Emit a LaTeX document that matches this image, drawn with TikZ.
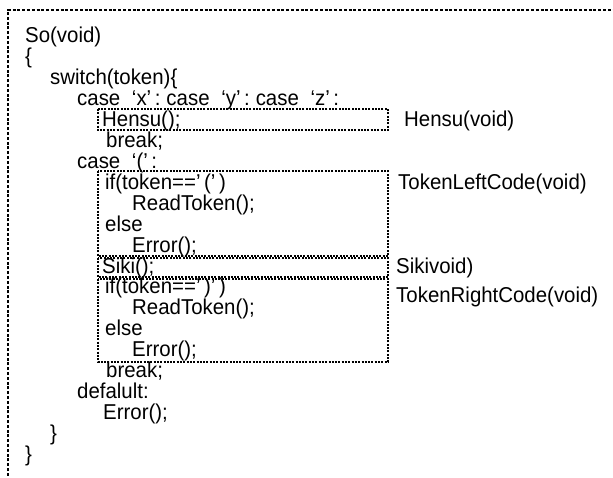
\documentclass[tikz,border=0pt]{standalone}
\usepackage{fontspec}
\setmainfont[FakeStretch=0.95]{Liberation Sans}
\begin{document}
\begin{tikzpicture}[x=1pt,y=-1pt,
  code/.style={anchor=west,inner sep=0pt,font=\fontsize{21.5}{22}\selectfont,text height=0.72em,text depth=0pt,text=black},
  outerframe/.style={line width=2pt,dash pattern=on 3pt off 1.8pt,draw=black},
  subbox/.style={line width=1.5pt,dash pattern=on 2pt off 1.3pt,draw=black}]
\useasboundingbox (0,0) rectangle (613,477);
\clip (0,0) rectangle (613,477);
\draw[outerframe] (8,495) -- (8,10) -- (630,10);
% sub-function boxes
\draw[subbox] (98,109) rectangle (388,130);
\draw[subbox] (98,171) rectangle (388,256);
\draw[subbox] (98,258) rectangle (388,277);
\draw[subbox] (98,279) rectangle (388,362);
% code lines
\node[code] (l0)  at (25,39)  {So(void)};
\node[code] (l1)  at (25,60)  {\{};
\node[code] (l2)  at (50,81)  {switch(token)\{};
\node[code] (l3)  at (77,102)  {case\; ‘x’\,:\;case\; ‘y’\,:\;case\; ‘z’\,:};
\node[code] (l4)  at (102,123) {Hensu();};
\node[code] (l5)  at (106,144) {break;};
\node[code] (l6)  at (77,165) {case\; ‘(’\,:};
\node[code] (l7)  at (105,186) {if(token==’\,(’\,)};
\node[code] (l8)  at (132,207) {ReadToken();};
\node[code] (l9)  at (105,228) {else};
\node[code] (l10) at (132,249) {Error();};
\node[code] (l11) at (102,270) {Siki();};
\node[code] (l12) at (105,290) {if(token==’\,)’\,)};
\node[code] (l13) at (132,311) {ReadToken();};
\node[code] (l14) at (105,332) {else};
\node[code] (l15) at (132,353) {Error();};
\node[code] (l16) at (106,374) {break;};
\node[code] (l17) at (77,395) {defalult:};
\node[code] (l18) at (103,416) {Error();};
\node[code] (l19) at (50,437) {\}};
\node[code] (l20) at (25,458) {\}};
% labels
\node[code] (hensu) at (404,123) {Hensu(void)};
\node[code] (tlc)   at (398,186) {TokenLeftCode(void)};
\node[code] (siki)  at (396,270) {Sikivoid)};
\node[code] (trc)   at (396,299) {TokenRightCode(void)};
\end{tikzpicture}
\end{document}
